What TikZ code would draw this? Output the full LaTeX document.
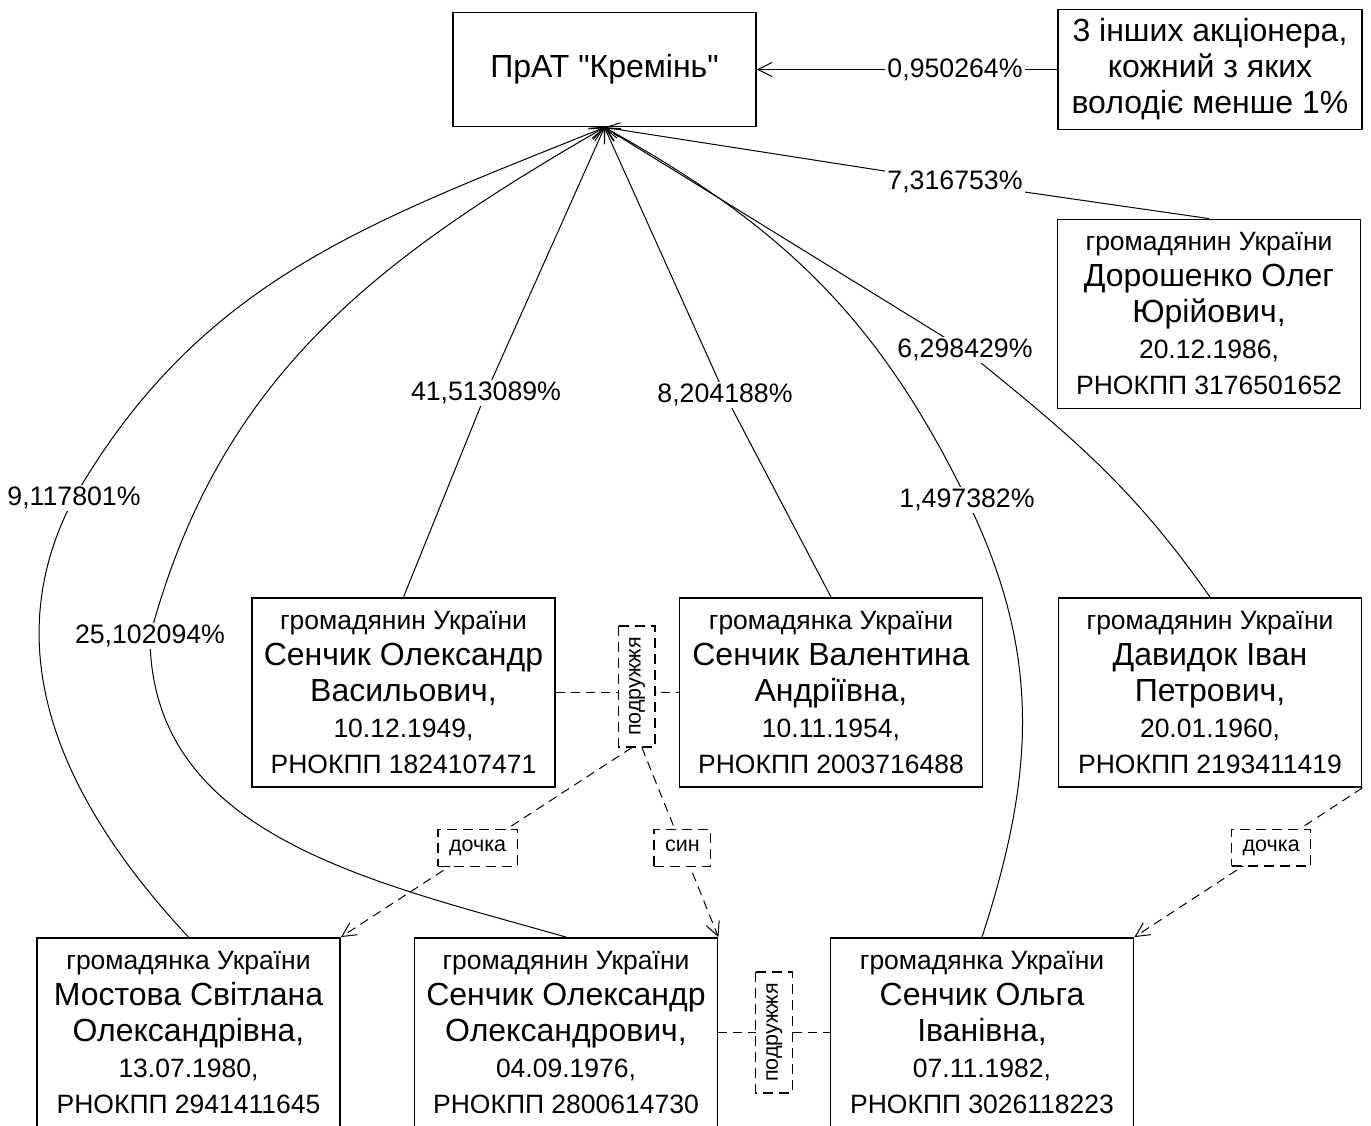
\documentclass[tikz,border=0pt]{standalone}
\usepackage{fontspec}
\setmainfont{Liberation Sans}[Ligatures=TeXOff]
\usepackage{tikz}
\usetikzlibrary{arrows.meta}
\newcommand{\smalltxt}{\fontsize{26.5}{36}\selectfont}
\newcommand{\bigtxt}{\fontsize{32}{36}\selectfont}
\newcommand{\pcttxt}{\fontsize{26.7}{30}\selectfont}
\newcommand{\reltxt}{\fontsize{21.5}{24}\selectfont}

\begin{document}
\begin{tikzpicture}[x=1pt, y=1pt,
   box/.style = {draw, line width=1.8pt, align=center, inner sep=2pt, font=\smalltxt},
   person/.style = {box, minimum width=303pt, minimum height=189pt},
   pct/.style = {fill=white, inner sep=2pt, font=\pcttxt},
   rel/.style = {draw, line width=1.4pt, dash pattern=on 10pt off 6pt, fill=white, font=\reltxt, inner xsep=11pt, inner ysep=9.5pt, text height=12.5pt, text depth=5pt},
   own/.style = {line width=1pt, -{Straight Barb[length=14pt,width=14pt]}},
   kin/.style = {own, dash pattern=on 9pt off 6pt},
   marr/.style = {line width=1pt, dash pattern=on 9pt off 6pt}]
          \useasboundingbox (0,0) rectangle (1371,1126);

          \node[box, minimum width=303pt, minimum height=114pt, font=\bigtxt] (kremin) at (604.5,1056.5) {ПрАТ "Кремінь"};
          \node[box, minimum width=304pt, minimum height=120pt, font=\bigtxt] (inshi) at (1210,1056.5) {3 інших акціонера,\\кожний з яких\\володіє менше 1\%};
          \node[person] (dor) at (1209,812) {громадянин України\\{\bigtxt Дорошенко Олег}\\{\bigtxt Юрійович,}\\20.12.1986,\\РНОКПП 3176501652};
          \node[person] (sov) at (403.5,433.5) {громадянин України\\{\bigtxt Сенчик Олександр}\\{\bigtxt Васильович,}\\10.12.1949,\\РНОКПП 1824107471};
          \node[person] (sva) at (831,433.5) {громадянка України\\{\bigtxt Сенчик Валентина}\\{\bigtxt Андріївна,}\\10.11.1954,\\РНОКПП 2003716488};
          \node[person] (dav) at (1210,433.5) {громадянин України\\{\bigtxt Давидок Іван}\\{\bigtxt Петрович,}\\20.01.1960,\\РНОКПП 2193411419};
          \node[person] (mos) at (188.5,93.5) {громадянка України\\{\bigtxt Мостова Світлана}\\{\bigtxt Олександрівна,}\\13.07.1980,\\РНОКПП 2941411645};
          \node[person] (soo) at (566,93.5) {громадянин України\\{\bigtxt Сенчик Олександр}\\{\bigtxt Олександрович,}\\04.09.1976,\\РНОКПП 2800614730};
          \node[person] (olg) at (982,93.5) {громадянка України\\{\bigtxt Сенчик Ольга}\\{\bigtxt Іванівна,}\\07.11.1982,\\РНОКПП 3026118223};

          \coordinate (p41) at (486,733);
          \coordinate (p8) at (725,731);
          \coordinate (p6) at (965,776);
          \coordinate (p7) at (955,944);
          \coordinate (p9) at (74,628);
          \coordinate (p25) at (150,490);
          \coordinate (p1) at (967,626);

          \draw[own] (inshi.west) -- node[pct, pos=0.34] {0,950264\%} (kremin.east);
          \draw[own] (dor.north) -- (p7) node[pct] {7,316753\%} -- (kremin.south);
          \draw[own] (dav.north) to[out=125, in=-39] (p6) node[pct] {6,298429\%} -- (kremin.south);
          \draw[own] (sov.north) -- (p41) node[pct] {41,513089\%} -- (kremin.south);
          \draw[own] (sva.north) -- (p8) node[pct] {8,204188\%} -- (kremin.south);
          \draw[own] (mos.north) to[out=133, in=-118] (p9) node[pct] {9,117801\%} to[out=60, in=202] (kremin.south);
          \draw[own] (soo.north) to[out=164, in=-90] (p25) node[pct] {25,102094\%} to[out=75, in=210] (kremin.south);
          \draw[own] (olg.north) to[out=72, in=-64] (p1) node[pct] {1,497382\%} to[out=116, in=-29] (kremin.south);

          \draw[marr] (sov.east) -- node[rel, yshift=6pt, rotate=90, pos=0.66] (sp1) {подружжя} (sva.west);
          \draw[marr] (soo.east) -- node[rel, rotate=90] (sp2) {подружжя} (olg.west);

          \draw[kin] ([xshift=-5pt]sp1.west) -- node[rel, pos=0.53] {дочка} (mos.north east);
          \draw[kin] ([xshift=5pt]sp1.west) -- node[rel, pos=0.53] {син} (soo.north east);
          \draw[kin] (dav.south east) -- node[rel, pos=0.4] {дочка} (olg.north east);
        \end{tikzpicture}
\end{document}
